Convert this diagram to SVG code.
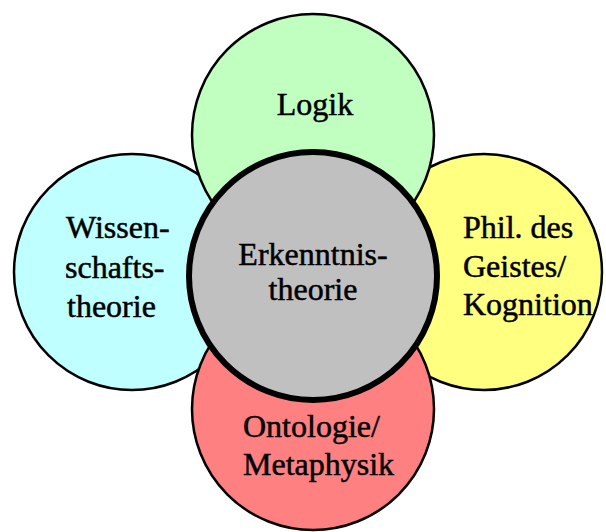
<svg xmlns="http://www.w3.org/2000/svg" width="606" height="532" viewBox="0 0 606 532">
<style>
.c{stroke:#000;stroke-width:2.5}
.core{stroke:#000;stroke-width:6}
text{font-family:"Liberation Serif","Times New Roman",serif;font-size:32px;fill:#000;stroke:#000;stroke-width:0.5}
.m{text-anchor:middle}
</style>
<rect width="606" height="532" fill="#fff"/>
<g id="connectors"></g>
<g id="wissenschaftstheorie">
<circle class="c" cx="132" cy="272" r="118" fill="#c0ffff"/>
<text x="66" y="238">Wissen-</text>
<text x="65" y="278">schafts-</text>
<text x="67" y="317">theorie</text>
</g>
<g id="phil-des-geistes">
<circle class="c" cx="484" cy="272" r="118" fill="#ffff80"/>
<text x="463" y="238">Phil. des</text>
<text x="463" y="277">Geistes/</text>
<text x="463" y="315">Kognition</text>
</g>
<g id="logik">
<circle class="c" cx="313" cy="135" r="121" fill="#c0ffc0"/>
<text class="m" x="315" y="115">Logik</text>
</g>
<g id="ontologie">
<circle class="c" cx="313" cy="409" r="121" fill="#ff8080"/>
<text x="243" y="437">Ontologie/</text>
<text x="243" y="475">Metaphysik</text>
</g>
<g id="erkenntnistheorie">
<circle class="core" cx="313" cy="276" r="124" fill="#c0c0c0"/>
<text class="m" x="313" y="265">Erkenntnis-</text>
<text class="m" x="313" y="300">theorie</text>
</g>
</svg>
